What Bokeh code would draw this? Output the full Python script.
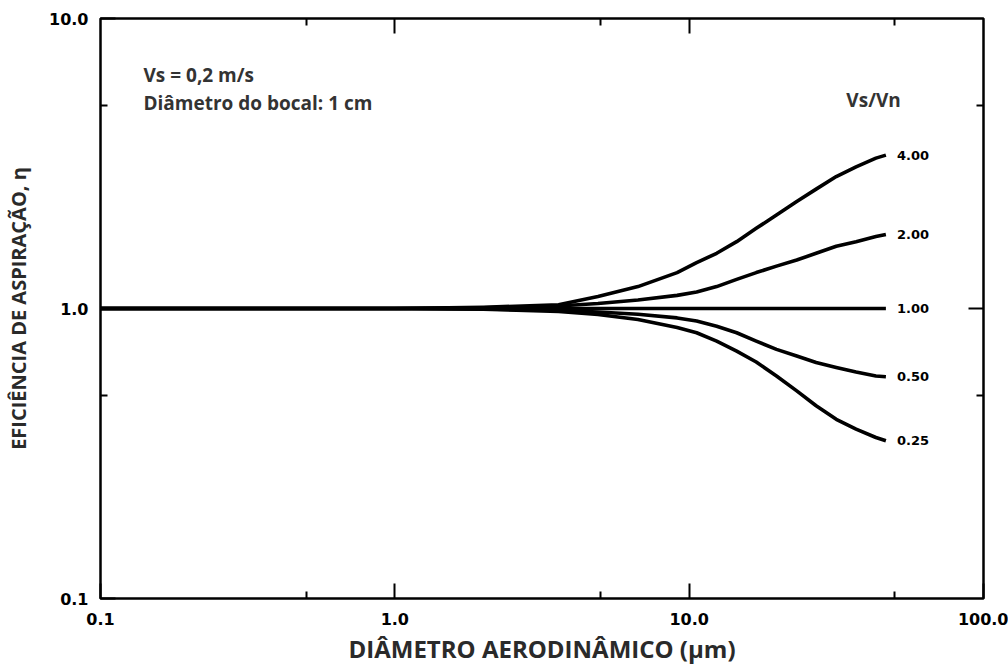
from bokeh.plotting import figure
from bokeh.models import Range1d, LogAxis, FixedTicker, Label
from bokeh.core.properties import value
from bokeh.embed import file_html
from bokeh.resources import INLINE

# ---- data ----
diam = [0.1, 1.0, 2.0, 3.6, 4.9, 6.7, 9.1, 10.6, 12.4, 14.5, 16.9, 19.8, 23.2, 27.0, 31.6, 36.9, 43.1, 46.6]
eff_400 = [1.0, 1.0, 1.01, 1.03, 1.10, 1.19, 1.33, 1.44, 1.55, 1.70, 1.89, 2.10, 2.34, 2.58, 2.85, 3.08, 3.30, 3.38]
eff_200 = [1.0, 1.0, 1.005, 1.02, 1.04, 1.07, 1.11, 1.14, 1.19, 1.26, 1.33, 1.40, 1.47, 1.55, 1.64, 1.70, 1.77, 1.80]
eff_100 = [1.0, 1.0, 1.0, 1.0, 1.0, 1.0, 1.0, 1.0, 1.0, 1.0, 1.0, 1.0, 1.0, 1.0, 1.0, 1.0, 1.0, 1.0]
eff_050 = [1.0, 1.0, 0.997, 0.986, 0.972, 0.955, 0.928, 0.905, 0.869, 0.825, 0.772, 0.723, 0.686, 0.651, 0.626, 0.604, 0.585, 0.582]
eff_025 = [1.0, 1.0, 0.995, 0.976, 0.954, 0.917, 0.86, 0.825, 0.772, 0.713, 0.654, 0.585, 0.520, 0.462, 0.415, 0.384, 0.359, 0.350]
ratio_labels = ["4.00", "2.00", "1.00", "0.50", "0.25"]
series = [eff_400, eff_200, eff_100, eff_050, eff_025]

x_ticks = [0.1, 1, 10, 100]
x_tick_labels = ["0.1", "1.0", "10.0", "100.0"]
x_minor = [0.5, 5, 50]
y_ticks = [0.1, 1, 10]
y_tick_labels = ["0.1", "1.0", "10.0"]
y_minor = [0.5, 5]

p = figure(width=1008, height=667, x_axis_type="log", y_axis_type="log",
           x_range=Range1d(0.1, 100), y_range=Range1d(0.1, 10),
           output_backend="svg", toolbar_location=None,
           min_border_left=100, min_border_right=25, min_border_top=18, min_border_bottom=67)
p.grid.visible = False
p.outline_line_color = "black"
p.outline_line_width = 2.5
p.background_fill_color = "white"
p.border_fill_color = "white"

tick_font = "DejaVu Sans"

def style(ax, show_labels):
    ax.axis_line_color = None
    ax.major_tick_in = 15
    ax.major_tick_out = 0
    ax.minor_tick_in = 7
    ax.minor_tick_out = 0
    ax.major_tick_line_color = "black"
    ax.major_tick_line_width = 2
    ax.minor_tick_line_color = "black"
    ax.minor_tick_line_width = 2
    if show_labels:
        ax.major_label_text_font = tick_font
        ax.major_label_text_font_style = "bold"
        ax.major_label_text_font_size = "16px"
        ax.major_label_text_color = "black"
    else:
        ax.major_label_text_font_size = "0px"
        ax.major_label_text_color = None

xa = p.xaxis[0]
xa.ticker = FixedTicker(ticks=x_ticks, minor_ticks=x_minor)
xa.major_label_overrides = dict(zip(x_ticks, x_tick_labels))
style(xa, True)
xa.major_label_standoff = 14
xa.axis_label = "DIÂMETRO AERODINÂMICO (µm)"
xa.axis_label_text_font = "Open Sans"
xa.axis_label_text_font_style = "bold"
xa.axis_label_text_font_size = "24px"
xa.axis_label_text_color = "#2a2a2a"
xa.axis_label_standoff = 4

ya = p.yaxis[0]
ya.ticker = FixedTicker(ticks=y_ticks, minor_ticks=y_minor)
ya.major_label_overrides = dict(zip(y_ticks, y_tick_labels))
style(ya, True)
ya.major_label_standoff = 12
ya.axis_label = "EFICIÊNCIA DE ASPIRAÇÃO, η"
ya.axis_label_text_font = "Open Sans"
ya.axis_label_text_font_style = "bold"
ya.axis_label_text_font_size = "20px"
ya.axis_label_text_color = "#2a2a2a"
ya.axis_label_standoff = 14

top = LogAxis(ticker=FixedTicker(ticks=[1, 10], minor_ticks=x_minor))
style(top, False)
p.add_layout(top, "above")
right = LogAxis(ticker=FixedTicker(ticks=[1], minor_ticks=y_minor))
style(right, False)
p.add_layout(right, "right")

for ys, lab in zip(series, ratio_labels):
    p.line(diam, ys, line_color="black", line_width=3.6, line_join="round")
    p.text(x=[diam[-1]], y=[ys[-1]], text=[lab], x_offset=11,
           text_baseline="middle", text_align="left",
           text_font=value("DejaVu Sans"), text_font_style="bold",
           text_font_size="13px", text_color="black")

for txt, yy in [("Vs = 0,2 m/s", 6.4), ("Diâmetro do bocal: 1 cm", 5.1)]:
    p.add_layout(Label(x=0.14, y=yy, text=txt, text_baseline="middle",
                       text_font="Open Sans", text_font_style="bold",
                       text_font_size="19px", text_color="#333333"))
p.add_layout(Label(x=34.2, y=5.23, text="Vs/Vn", text_baseline="middle",
                   text_font="Open Sans", text_font_style="bold",
                   text_font_size="19px", text_color="#333333"))

open("out.html", "w").write(file_html(p, INLINE))
